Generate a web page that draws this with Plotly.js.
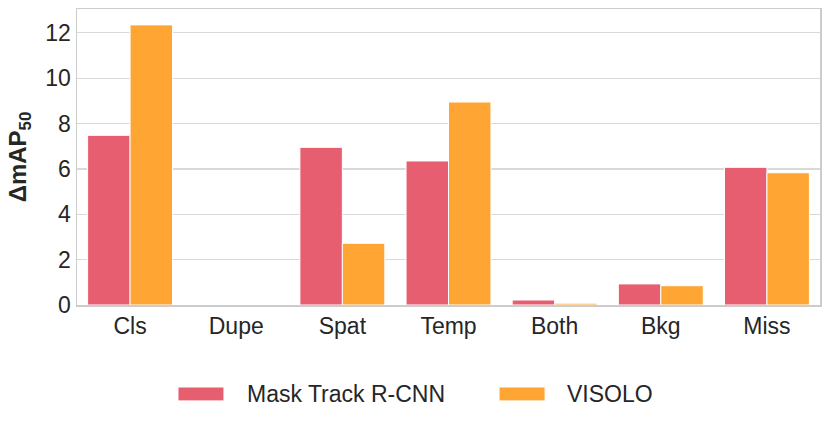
<!DOCTYPE html>
<html><head><meta charset="utf-8">
<script src="https://cdn.plot.ly/plotly-3.0.1.min.js"></script>
<style>body{margin:0;padding:0;background:#fff}#chart{width:830px;height:427px}</style>
</head><body><div id="chart"></div>
<script>
const categories = ["Cls", "Dupe", "Spat", "Temp", "Both", "Bkg", "Miss"];
const maskTrack = [7.48, 0, 6.95, 6.35, 0.22, 0.93, 6.07];
const visolo = [12.35, 0, 2.72, 8.95, 0.08, 0.85, 5.83];
const seriesNames = ["Mask Track R-CNN", "VISOLO"];
const colors = ["#e75e70", "#fea533"];

const font = {family: "Liberation Sans, Arial, sans-serif", color: "#262626"};
const traces = [maskTrack, visolo].map((v, i) => ({
  type: "bar", x: categories, y: v, name: seriesNames[i], showlegend: false,
  marker: {color: colors[i], line: {color: "#ffffff", width: 1}}
}));

// legend drawn as swatches + labels (paper coordinates)
const legendSwatchX = [[0.1359, 0.1978], [0.568, 0.630]];
const legendTextX = [0.2261, 0.6568];
const shapes = legendSwatchX.map((sx, i) => ({
  type: "rect", xref: "paper", yref: "paper", x0: sx[0], x1: sx[1], y0: -0.277, y1: -0.324,
  fillcolor: colors[i], line: {color: "#ffffff", width: 1}
}));
const annotations = seriesNames.map((n, i) => ({
  text: n, xref: "paper", yref: "paper", x: legendTextX[i], y: -0.3007,
  xanchor: "left", yanchor: "middle", showarrow: false,
  font: Object.assign({size: 23}, font)
}));

const layout = {
  width: 830, height: 427,
  margin: {l: 77, r: 10, t: 9, b: 122},
  paper_bgcolor: "#fff", plot_bgcolor: "#fff",
  bargap: 0.2, bargroupgap: 0,
  font: Object.assign({size: 23}, font),
  xaxis: {showgrid: false, showline: true, mirror: true, linecolor: "#cccccc", linewidth: 1.5,
    ticks: "", tickfont: Object.assign({size: 23}, font)},
  yaxis: {range: [0, 13.05], dtick: 2, showgrid: true, gridcolor: "#d9d9d9", gridwidth: 1.2,
    zeroline: false, showline: true, mirror: true, linecolor: "#cccccc", linewidth: 1.5,
    ticks: "", ticklen: 0, tickfont: Object.assign({size: 23}, font),
    title: {text: "<b>ΔmAP<sub>50</sub></b>", font: Object.assign({size: 24}, font), standoff: 12}},
  shapes: shapes,
  annotations: annotations,
  showlegend: false
};
Plotly.newPlot("chart", traces, layout, {displayModeBar: false, staticPlot: true});
</script></body></html>
